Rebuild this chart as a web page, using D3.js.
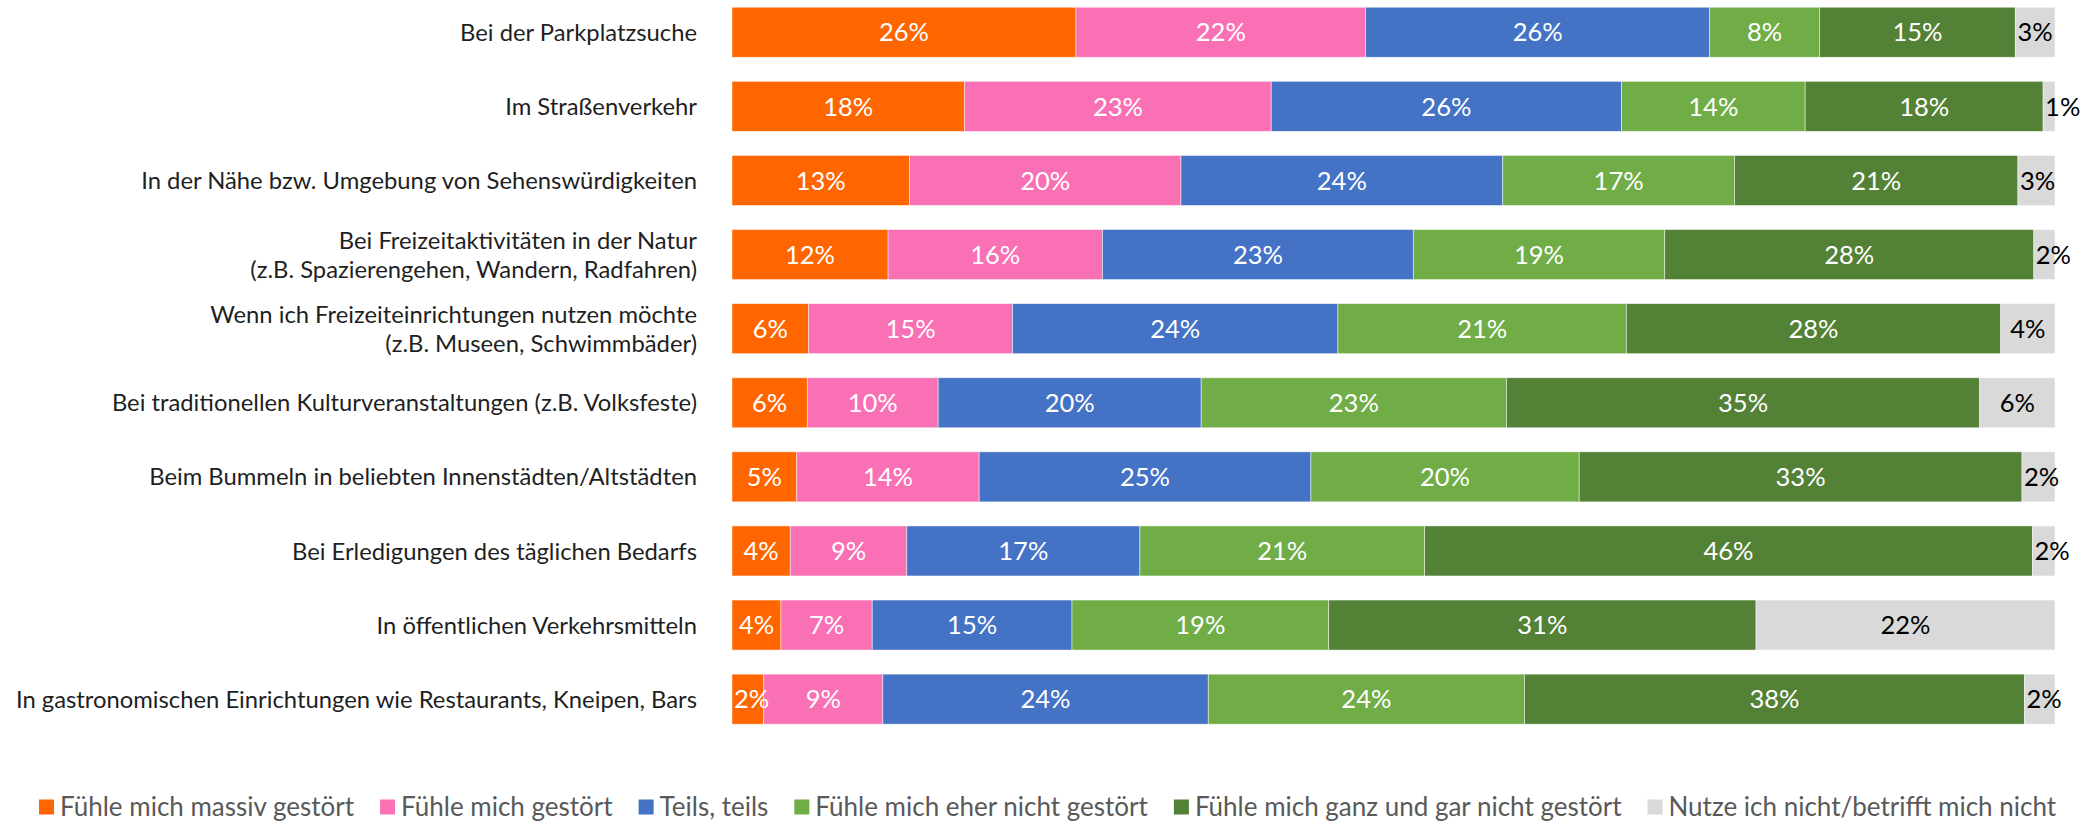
<!DOCTYPE html>
<html>
<head>
<meta charset="utf-8">
<script src="https://cdn.jsdelivr.net/npm/d3@7"></script>
<style>
  html, body { margin: 0; padding: 0; background: #fff; }
  svg { display: block; font-family: Lato, "Open Sans", sans-serif; }
</style>
</head>
<body>
<svg id="chart" width="2096" height="823"></svg>
<script>
// ---- data ----
const categories = [
  ["Bei der Parkplatzsuche"],
  ["Im Straßenverkehr"],
  ["In der Nähe bzw. Umgebung von Sehenswürdigkeiten"],
  ["Bei Freizeitaktivitäten in der Natur", "(z.B. Spazierengehen, Wandern, Radfahren)"],
  ["Wenn ich Freizeiteinrichtungen nutzen möchte", "(z.B. Museen, Schwimmbäder)"],
  ["Bei traditionellen Kulturveranstaltungen (z.B. Volksfeste)"],
  ["Beim Bummeln in beliebten Innenstädten/Altstädten"],
  ["Bei Erledigungen des täglichen Bedarfs"],
  ["In öffentlichen Verkehrsmitteln"],
  ["In gastronomischen Einrichtungen wie Restaurants, Kneipen, Bars"]
];
const seriesNames = [
  "Fühle mich massiv gestört",
  "Fühle mich gestört",
  "Teils, teils",
  "Fühle mich eher nicht gestört",
  "Fühle mich ganz und gar nicht gestört",
  "Nutze ich nicht/betrifft mich nicht"
];
const seriesColors = ["#FF6600", "#F970B5", "#4472C4", "#70AD47", "#538135", "#D9D9D9"];
const labelColors = ["#FFFFFF", "#FFFFFF", "#FFFFFF", "#FFFFFF", "#FFFFFF", "#000000"];

const massivGestoert  = [26.0, 17.6, 13.4, 11.8, 5.8, 5.7, 4.9, 4.4, 3.7, 2.4];
const gestoert        = [21.9, 23.2, 20.5, 16.2, 15.4, 9.9, 13.8, 8.8, 6.9, 9.0];
const teilsTeils      = [26.0, 26.5, 24.3, 23.5, 24.6, 19.9, 25.1, 17.6, 15.1, 24.6];
const eherNicht       = [8.3, 13.9, 17.5, 19.0, 21.8, 23.1, 20.3, 21.5, 19.4, 23.9];
const garNicht        = [14.8, 18.0, 21.4, 27.9, 28.3, 35.8, 33.5, 45.9, 32.3, 37.8];
const nutzeNicht      = [3.0, 0.9, 2.8, 1.6, 4.1, 5.7, 2.5, 1.7, 22.6, 2.3];

// data label texts as printed on the chart (per row)
const shownLabels = [
  [26, 22, 26, 8, 15, 3],
  [18, 23, 26, 14, 18, 1],
  [13, 20, 24, 17, 21, 3],
  [12, 16, 23, 19, 28, 2],
  [6, 15, 24, 21, 28, 4],
  [6, 10, 20, 23, 35, 6],
  [5, 14, 25, 20, 33, 2],
  [4, 9, 17, 21, 46, 2],
  [4, 7, 15, 19, 31, 22],
  [2, 9, 24, 24, 38, 2]
];

// ---- build ----
const seriesValues = [massivGestoert, gestoert, teilsTeils, eherNicht, garNicht, nutzeNicht];
const keys = seriesNames.map((d, i) => "s" + i);
const rows = categories.map((c, r) => {
  const o = { idx: r };
  keys.forEach((k, i) => { o[k] = seriesValues[i][r]; });
  return o;
});
const stacked = d3.stack().keys(keys).offset(d3.stackOffsetExpand)(rows);

const svg = d3.select("#chart");
const x = d3.scaleLinear().domain([0, 1]).range([732, 2055]);
const y = d3.scaleBand().domain(d3.range(categories.length))
  .range([-4.8, 736.2]).paddingInner(0.325).paddingOuter(0.1625);

const catFont = 23.8;
const valFont = 25.5;
const legFont = 26;

// bars
const layers = svg.append("g").selectAll("g").data(stacked).join("g")
  .attr("fill", (d, i) => seriesColors[i]);
layers.selectAll("rect").data(d => d).join("rect")
  .attr("x", d => x(d[0]))
  .attr("y", (d, j) => y(j))
  .attr("width", d => x(d[1]) - x(d[0]))
  .attr("height", y.bandwidth())
  .attr("stroke", "#fff").attr("stroke-width", 0.8).attr("stroke-opacity", 0.6);

// data labels
const lbl = svg.append("g").attr("font-size", valFont);
stacked.forEach((layer, si) => {
  layer.forEach((d, r) => {
    const x0 = x(d[0]), x1 = x(d[1]);
    const t = lbl.append("text")
      .attr("y", y(r) + y.bandwidth() / 2)
      .attr("dy", "0.36em")
      .attr("fill", labelColors[si])
      .attr("text-anchor", "middle")
      .text(shownLabels[r][si] + "%");
    const w = t.node().getComputedTextLength();
    const cx = Math.max((x0 + x1) / 2, x0 + w / 2 + 2);
    t.attr("x", cx);
  });
});

// category labels
const cat = svg.append("g").attr("font-size", catFont).attr("fill", "#1f1f1f")
  .attr("text-anchor", "end");
categories.forEach((lines, r) => {
  const cy = y(r) + y.bandwidth() / 2;
  const lh = 29;
  lines.forEach((ln, k) => {
    cat.append("text")
      .attr("x", 697)
      .attr("y", cy + (k - (lines.length - 1) / 2) * lh)
      .attr("dy", "0.36em")
      .text(ln);
  });
});

// legend
const leg = svg.append("g").attr("font-size", legFont).attr("fill", "#595959");
let lx = 39;
const ly = 807;
seriesNames.forEach((name, i) => {
  leg.append("rect").attr("x", lx).attr("y", ly - 7.5).attr("width", 15).attr("height", 15)
    .attr("fill", seriesColors[i]);
  const t = leg.append("text").attr("x", lx + 21).attr("y", ly).attr("dy", "0.34em").text(name);
  lx += 21 + t.node().getComputedTextLength() + 26;
});
</script>
</body>
</html>
